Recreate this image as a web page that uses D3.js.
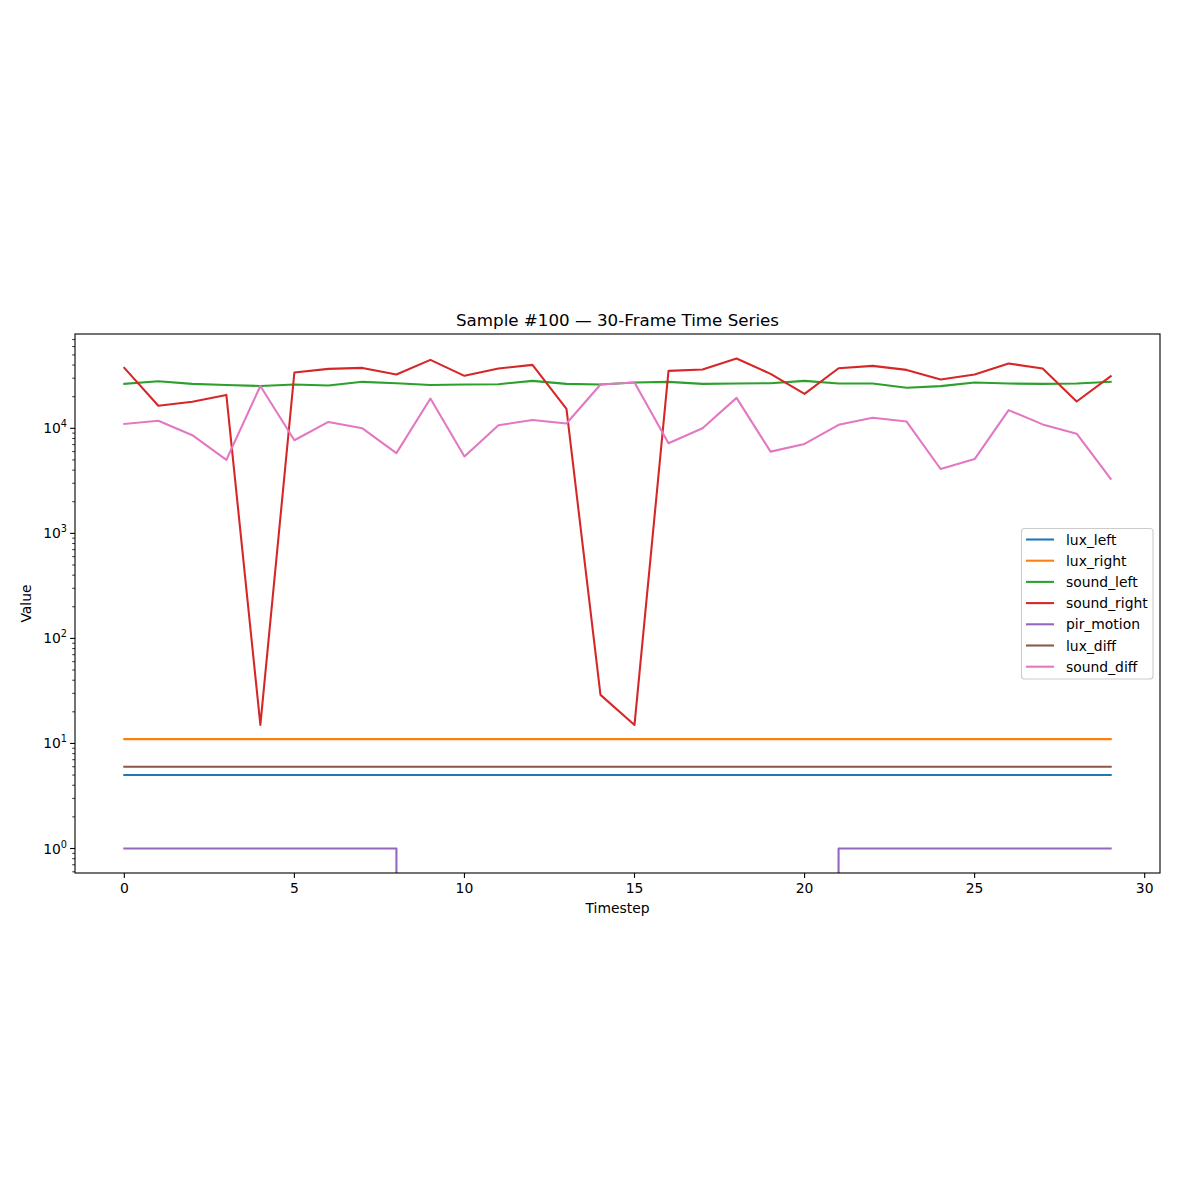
<!DOCTYPE html>
<html>
<head>
<meta charset="utf-8">
<script src="https://cdn.jsdelivr.net/npm/d3@7"></script>
<style>
  body { margin: 0; background: #fff; }
  svg { font-family: "DejaVu Sans", sans-serif; }
</style>
</head>
<body>
<svg id="chart" width="1200" height="1200"></svg>
<script>
const timesteps = d3.range(0, 30);
const luxLeft = Array(30).fill(5);
const luxRight = Array(30).fill(11);
const luxDiff = Array(30).fill(6);
const soundLeft = [26500, 28100, 26500, 25800, 25300, 26100, 25600, 27700, 26900, 25800,
                   26100, 26300, 28300, 26500, 26100, 27300, 27700, 26500, 26700, 26900,
                   28300, 26700, 26700, 24300, 25200, 27300, 26700, 26500, 26700, 27700];
const soundRight = [37600, 16400, 17900, 20800, 15, 34000, 36800, 37600, 32500, 44800,
                    31600, 37100, 40200, 15300, 29, 15, 35200, 36300, 46200, 33000,
                    21300, 37300, 39300, 36000, 29200, 32500, 41400, 37100, 18000, 31300];
const pirMotion = [1,1,1,1,1,1,1,1,1,0, 0,0,0,0,0,0,0,0,0,0, 0,1,1,1,1,1,1,1,1,1];
const soundDiff = [11000, 11800, 8600, 5000, 25300, 7700, 11500, 10000, 5800, 19200,
                   5400, 10700, 12000, 11100, 26100, 27300, 7200, 10000, 19500, 6000,
                   7100, 10800, 12600, 11600, 4100, 5100, 14900, 10900, 8900, 3300];

const seriesNames = ["lux_left", "lux_right", "sound_left", "sound_right", "pir_motion", "lux_diff", "sound_diff"];
const seriesValues = [luxLeft, luxRight, soundLeft, soundRight, pirMotion, luxDiff, soundDiff];
const colors = ["#1f77b4", "#ff7f0e", "#2ca02c", "#d62728", "#9467bd", "#8c564b", "#e377c2"];
const xTickValues = [0, 5, 10, 15, 20, 25, 30];
const yTickExponents = [0, 1, 2, 3, 4];

const svg = d3.select("#chart");
const L = 75, R = 1160, T = 334, B = 873;

// matplotlib-like 5% margins
const xmin = d3.min(timesteps), xmax = d3.max(timesteps);
const xm = (xmax - xmin) * 0.05;
const x = d3.scaleLinear().domain([xmin - xm, xmax + xm]).range([L, R]);

const allPos = seriesValues.flat().filter(v => v > 0);
const lmin = Math.log10(d3.min(allPos)), lmax = Math.log10(d3.max(allPos));
const lm = (lmax - lmin) * 0.05;
const y = d3.scaleLog().domain([Math.pow(10, lmin - lm), Math.pow(10, lmax + lm)]).range([B, T]);

svg.append("defs").append("clipPath").attr("id", "clip")
  .append("rect").attr("x", L).attr("y", T).attr("width", R - L).attr("height", B - T);

const line = d3.line()
  .x((d, i) => x(timesteps[i]))
  .y(d => y(d > 0 ? d : 1e-300));

const g = svg.append("g").attr("clip-path", "url(#clip)");
seriesValues.forEach((vals, k) => {
  g.append("path").datum(vals)
    .attr("d", line)
    .attr("fill", "none")
    .attr("stroke", colors[k])
    .attr("stroke-width", 2.08)
    .attr("stroke-linejoin", "round")
    .attr("stroke-linecap", "square");
});

// X axis
const xAxis = svg.append("g");
xTickValues.forEach(t => {
  const px = x(t);
  xAxis.append("line").attr("x1", px).attr("x2", px).attr("y1", B).attr("y2", B + 4.9)
    .attr("stroke", "#000").attr("stroke-width", 1.1);
  xAxis.append("text").attr("x", px).attr("y", B + 20).attr("text-anchor", "middle")
    .attr("font-size", 13.9).attr("fill", "#000").text(t);
});

// Y axis
const yAxis = svg.append("g");
const [d0, d1] = y.domain();
for (let e = Math.floor(Math.log10(d0)); e <= Math.ceil(Math.log10(d1)); e++) {
  for (let m = 2; m <= 9; m++) {
    const v = m * Math.pow(10, e);
    if (v < d0 || v > d1) continue;
    yAxis.append("line").attr("x1", L - 2.8).attr("x2", L).attr("y1", y(v)).attr("y2", y(v))
      .attr("stroke", "#000").attr("stroke-width", 0.8);
  }
}
yTickExponents.forEach(e => {
  const py = y(Math.pow(10, e));
  yAxis.append("line").attr("x1", L - 4.9).attr("x2", L).attr("y1", py).attr("y2", py)
    .attr("stroke", "#000").attr("stroke-width", 1.1);
  const t = yAxis.append("text").attr("x", L - 8).attr("y", py + 5).attr("text-anchor", "end")
    .attr("font-size", 13.9).attr("fill", "#000");
  t.append("tspan").text("10");
  t.append("tspan").attr("dy", -6).attr("font-size", 9.7).text(e);
});

// Frame
svg.append("rect").attr("x", L).attr("y", T).attr("width", R - L).attr("height", B - T)
  .attr("fill", "none").attr("stroke", "#000").attr("stroke-width", 1.1);

// Labels
svg.append("text").attr("x", (L + R) / 2).attr("y", 913).attr("text-anchor", "middle")
  .attr("font-size", 13.9).text("Timestep");
svg.append("text").attr("transform", `translate(31,${(T + B) / 2}) rotate(-90)`)
  .attr("text-anchor", "middle").attr("font-size", 13.9).text("Value");
svg.append("text").attr("x", (L + R) / 2).attr("y", 326).attr("text-anchor", "middle")
  .attr("font-size", 16.7).text("Sample #100 — 30-Frame Time Series");

// Legend
const lg = svg.append("g");
lg.append("rect").attr("x", 1021.5).attr("y", 528.5).attr("width", 131.5).attr("height", 150.5)
  .attr("rx", 3).attr("fill", "#fff").attr("fill-opacity", 0.8)
  .attr("stroke", "#cccccc").attr("stroke-width", 1.1);
seriesNames.forEach((name, k) => {
  const ly = 539.5 + k * 21.2;
  lg.append("line").attr("x1", 1026).attr("x2", 1054).attr("y1", ly).attr("y2", ly)
    .attr("stroke", colors[k]).attr("stroke-width", 2.08);
  lg.append("text").attr("x", 1066).attr("y", ly + 5).attr("font-size", 13.9).text(name);
});
</script>
</body>
</html>
